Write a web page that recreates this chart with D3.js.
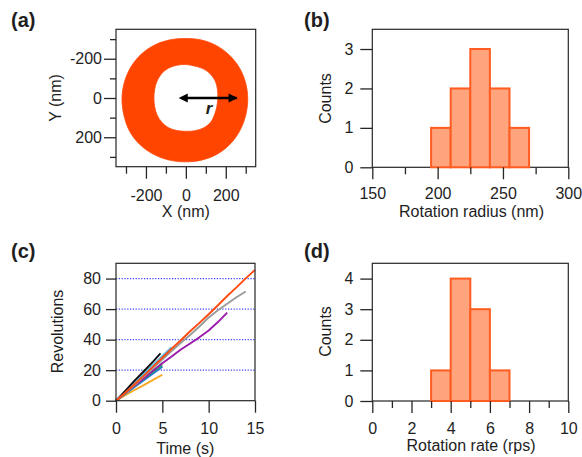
<!DOCTYPE html>
<html><head><meta charset="utf-8">
<script src="https://cdn.jsdelivr.net/npm/d3@7"></script>
<style>
html,body{margin:0;padding:0;background:#fff;}
svg{display:block;font-family:"Liberation Sans",Arial,sans-serif;}
</style></head>
<body>
<svg id="chart" width="582" height="457"></svg>
<script>
// ---------- DATA ----------
// (a) ring of the trajectory: boundary radii (nm) at screen angles (deg, clockwise from top)
const ringAngles = [0,15,30,45,60,75,90,105,120,135,150,165,180,195,210,225,240,255,270,285,300,315,330,345];
const ringOuter  = [298,301,304,306,308,309,310,312,316,320,322,321,320,322,325,328,327,322,320,318,316,313,308,302];
const ringInner  = [168,166,170,172,170,164,160,161,166,174,174,170,167,169,172,171,167,162,160,162,167,172,173,170];
const arrowLength = 255; // nm
const aMajor = [-200,0,200], aMinor = [-300,-100,100,300];

// (b) rotation radius histogram
const radiusBinStart = [150,165,180,195,210,225,240,255,270,285];
const radiusCounts   = [0,0,0,1,2,3,2,1,0,0];
const radiusBinWidth = 15;
const bXMajor = [150,200,250,300], bXMinor = [175,225,275], bYTicks = [0,1,2,3];

// (c) revolutions vs time
const cTimeLong   = [0,1,2,3,4,5,6,7,8,9,10,11,12,13,14,15];
const cOrange     = [0,5.2,10.8,16.4,22.3,28.1,34.0,39.6,45.5,51.0,56.6,62.5,68.6,74.2,80.1,85.7];
const cGray       = [0,5.0,10.3,15.8,21.5,27.0,32.5,38.0,43.0,48.6,54.5,59.2,63.5,67.8,71.5];
const cPurple     = [0,5.0,9.8,14.5,19.6,24.5,29.0,33.5,37.5,41.5,46.0,51.5,57.7];
const cTimeShort  = [0,1,2,3,4,5];
const cBlackTime  = [0,1,2,3,4,4.8];
const cBlack      = [0,6.5,13.2,19.3,25.6,31.0];
const cCyanTime   = [0,1,2,3,4,5,6];
const cCyan       = [0,6.0,12.0,17.8,23.5,29.3,35.0];
const cGreen      = [0,5.0,9.8,14.6,19.6,24.5];
const cTeal       = [0,4.8,9.4,14.0,18.6,23.0];
const cBlue       = [0,4.6,9.0,13.4,17.8,22.3];
const cYellow     = [0,3.6,7.0,10.2,13.6,17.0];
const cXTicks = [0,5,10,15], cYTicks = [0,20,40,60,80], cGrid = [20,40,60,80];

// (d) rotation rate histogram
const rateBinStart = [0,1,2,3,4,5,6,7,8,9];
const rateCounts   = [0,0,0,1,4,3,1,0,0,0];
const rateBinWidth = 1;
const dXMajor = [0,2,4,6,8,10], dXMinor = [1,3,5,7,9], dYTicks = [0,1,2,3,4];

// ---------- DRAW ----------
const svg = d3.select("#chart");
const FONT = 16, TXT = "#1e1e1e", AX = "#262626";
const fmt = d => String(d);

function frame(x, y){
  const [x0,x1] = x.range(), [y1,y0] = y.range();
  svg.append("rect").attr("x",x0).attr("y",Math.min(y0,y1)).attr("width",x1-x0)
     .attr("height",Math.abs(y1-y0)).attr("fill","none").attr("stroke",AX).attr("stroke-width",1.2);
}
function bottomAxis(x, yPos, major, minor, pad){
  const g = svg.append("g").attr("transform",`translate(0,${yPos})`);
  if (minor && minor.length){
    const gm = g.append("g").call(d3.axisBottom(x).tickValues(minor).tickSize(7).tickFormat(""));
    gm.select(".domain").remove();
  }
  const gM = g.append("g").call(d3.axisBottom(x).tickValues(major).tickSize(12).tickPadding(pad).tickFormat(fmt));
  gM.select(".domain").remove();
  g.selectAll("line").attr("stroke",AX).attr("stroke-width",1.3);
  g.selectAll("text").attr("font-size",FONT).attr("fill",TXT).attr("font-family","Liberation Sans, Arial, sans-serif");
}
function leftAxis(y, xPos, major, minor, size, pad){
  const g = svg.append("g").attr("transform",`translate(${xPos},0)`);
  if (minor && minor.length){
    const gm = g.append("g").call(d3.axisLeft(y).tickValues(minor).tickSize(6).tickFormat(""));
    gm.select(".domain").remove();
  }
  const gM = g.append("g").call(d3.axisLeft(y).tickValues(major).tickSize(size).tickPadding(pad).tickFormat(fmt));
  gM.select(".domain").remove();
  g.selectAll("line").attr("stroke",AX).attr("stroke-width",1.3);
  g.selectAll("text").attr("font-size",FONT).attr("fill",TXT).attr("font-family","Liberation Sans, Arial, sans-serif");
}
function text(x, y, s, opts={}){
  const t = svg.append("text").attr("x",x).attr("y",y).text(s)
    .attr("font-size",opts.size||FONT).attr("fill",TXT)
    .attr("text-anchor",opts.anchor||"middle");
  if (opts.weight) t.attr("font-weight",opts.weight);
  if (opts.style) t.attr("font-style",opts.style);
  if (opts.rotate) t.attr("transform",`rotate(-90,${x},${y})`);
  return t;
}

// ===== (a) =====
const xA = d3.scaleLinear().domain([-350,350]).range([116,255.7]);
const yA = d3.scaleLinear().domain([-350,350]).range([29.3,166.7]);
{
  const cx = xA(0), cy = yA(0), k = xA(1)-xA(0);
  const radial = d3.lineRadial().angle((d,i)=>ringAngles[i]*Math.PI/180).radius(d=>d*k).curve(d3.curveCatmullRomClosed.alpha(0.5));
  svg.append("path").attr("transform",`translate(${cx},${cy})`)
     .attr("d", radial(ringOuter) + radial(ringInner))
     .attr("fill","#FF4500").attr("fill-rule","evenodd")
     .attr("stroke","#FF4A0A").attr("stroke-width",0.8);
  const defs = svg.append("defs");
  ["s","e"].forEach(id=>{
    defs.append("marker").attr("id","ah"+id).attr("viewBox","0 0 10 10").attr("refX",id==="e"?9:1).attr("refY",5)
      .attr("markerWidth",4.2).attr("markerHeight",3.8).attr("orient","auto-start-reverse").attr("markerUnits","strokeWidth")
      .append("path").attr("d","M0,0 L10,5 L0,10 z").attr("fill","#000");
  });
  svg.append("line").attr("x1",xA(0)+1).attr("x2",xA(arrowLength)).attr("y1",yA(0)).attr("y2",yA(0))
     .attr("stroke","#000").attr("stroke-width",2.4)
     .attr("marker-start","url(#ahs)").attr("marker-end","url(#ahe)");
  text(209, 114, "r", {size:17, weight:"bold", style:"italic"});
}
frame(xA, yA);
bottomAxis(xA, 166.7, aMajor, aMinor, 10.6);
leftAxis(yA, 116, aMajor, aMinor, 12, 2);
text(xA(0), 217, "X (nm)");
text(61, yA(0), "Y (nm)", {rotate:true});
text(11, 27, "(a)", {size:20, weight:"bold", anchor:"start"});

// ===== (b) =====
const xB = d3.scaleLinear().domain([150,300]).range([372.3,568.3]);
const yB = d3.scaleLinear().domain([0,3.5]).range([167.3,29.3]);
frame(xB, yB);
svg.append("g").selectAll("rect").data(radiusCounts).join("rect")
  .attr("x",(d,i)=>xB(radiusBinStart[i]))
  .attr("width",(d,i)=>xB(radiusBinStart[i]+radiusBinWidth)-xB(radiusBinStart[i]))
  .attr("y",d=>yB(d)).attr("height",d=>yB(0)-yB(d))
  .attr("fill","#FFA47C").attr("stroke","#FF5C22").attr("stroke-width",2);
bottomAxis(xB, 167.3, bXMajor, bXMinor, 8.8);
leftAxis(yB, 372.3, bYTicks, [], 12, 7);
text(471.5, 216.5, "Rotation radius (nm)");
text(331, 98.5, "Counts", {rotate:true});
text(304, 27, "(b)", {size:20, weight:"bold", anchor:"start"});

// ===== (c) =====
const xC = d3.scaleLinear().domain([0,15]).range([116,255]);
const yC = d3.scaleLinear().domain([0,90]).range([400.7,263.3]);
svg.append("g").selectAll("line").data(cGrid).join("line")
  .attr("x1",xC(0)).attr("x2",xC(15)).attr("y1",d=>yC(d)).attr("y2",d=>yC(d))
  .attr("stroke","#3C3CFF").attr("stroke-width",1.2).attr("stroke-dasharray","1.2,1.6");
const seriesC = [
  {t:cTimeShort, v:cYellow, c:"#F7A823"},
  {t:cTimeShort, v:cBlue,   c:"#1F6FE0"},
  {t:cTimeShort, v:cTeal,   c:"#17A08A"},
  {t:cTimeShort, v:cGreen,  c:"#3DAA3D"},
  {t:cCyanTime,  v:cCyan,   c:"#4FC3F0"},
  {t:cBlackTime, v:cBlack,  c:"#111111"},
  {t:cTimeLong.slice(0,cPurple.length), v:cPurple, c:"#9A1AAA"},
  {t:cTimeLong.slice(0,cGray.length),   v:cGray,   c:"#9B9B9B"},
  {t:cTimeLong, v:cOrange, c:"#FF4A0F"}
];
const lineC = d3.line().x(d=>xC(d[0])).y(d=>yC(d[1]));
svg.append("g").selectAll("path").data(seriesC).join("path")
  .attr("d",s=>lineC(s.t.map((t,i)=>[t,s.v[i]])))
  .attr("fill","none").attr("stroke",s=>s.c).attr("stroke-width",1.9).attr("stroke-linejoin","round");
frame(xC, yC);
bottomAxis(xC, 400.7, cXTicks, [], 9.5);
leftAxis(yC, 116, cYTicks, [], 10, 5);
text(xC(5)+23, 454, "Time (s)");
text(62.5, 331.5, "Revolutions", {rotate:true});
text(11, 258, "(c)", {size:20, weight:"bold", anchor:"start"});

// ===== (d) =====
const xD = d3.scaleLinear().domain([0,10]).range([372.3,568.3]);
const yD = d3.scaleLinear().domain([0,4.5]).range([401,263.3]);
frame(xD, yD);
svg.append("g").selectAll("rect").data(rateCounts).join("rect")
  .attr("x",(d,i)=>xD(rateBinStart[i]))
  .attr("width",(d,i)=>xD(rateBinStart[i]+rateBinWidth)-xD(rateBinStart[i]))
  .attr("y",d=>yD(d)).attr("height",d=>yD(0)-yD(d))
  .attr("fill","#FFA47C").attr("stroke","#FF5C22").attr("stroke-width",2);
bottomAxis(xD, 401, dXMajor, dXMinor, 9.5);
leftAxis(yD, 372.3, dYTicks, [], 12, 7);
text(471, 450.5, "Rotation rate (rps)");
text(331, 331.5, "Counts", {rotate:true});
text(304, 258, "(d)", {size:20, weight:"bold", anchor:"start"});
</script>
</body></html>
